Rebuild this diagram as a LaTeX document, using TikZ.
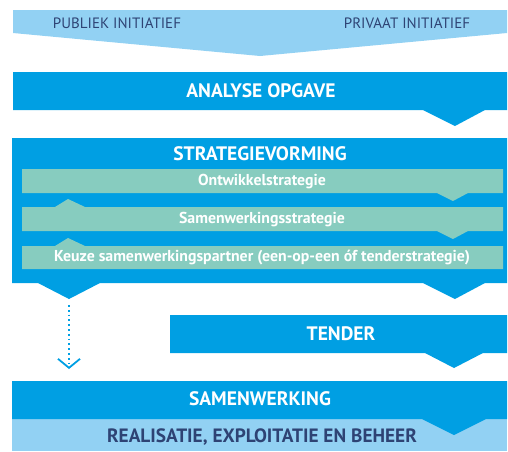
\documentclass[tikz,border=0pt]{standalone}
\usepackage{fontspec}
\setmainfont{PT Sans}
\usetikzlibrary{arrows.meta}

\definecolor{opgblue}{HTML}{009FE3}
\definecolor{lightblue}{HTML}{92D1F3}
\definecolor{stratgreen}{HTML}{87CCBF}
\definecolor{navytext}{HTML}{2E4374}

\begin{document}
\begin{tikzpicture}[x=1pt, y=-1pt,
  phase/.style={text=white, font=\bfseries\fontsize{19.5}{20}\selectfont},
  substep/.style={text=white, font=\bfseries\fontsize{15.8}{16}\selectfont},
  initiatief/.style={text=navytext, font=\fontsize{15}{15}\selectfont},
  beheer/.style={text=navytext, font=\bfseries\fontsize{19.3}{20}\selectfont}
  ]

  \useasboundingbox (0,0) rectangle (508,451);

  % Parameters
  \def\xl{12}    % left edge of the bands
  \def\xr{507}   % right edge of the bands
  \def\gl{22}    % left edge of the green bars
  \def\gr{503}   % right edge of the green bars

  % Initiatief band (light blue, pointing down)
  \fill[lightblue] (13,10) -- (\xr,10) -- (\xr,33) -- (260,56) -- (13,33) -- cycle;
  \node[initiatief] (publiek) at (117,23) {PUBLIEK INITIATIEF};
  \node[initiatief] (privaat) at (407,23) {PRIVAAT INITIATIEF};

  % Analyse opgave
  \fill[opgblue] (13,72) -- (\xr,72) -- (\xr,110) -- (485,110) -- (455,126)
    -- (423,110) -- (13,110) -- cycle;
  \node[phase] (analyse) at (261,91) {ANALYSE OPGAVE};

  % Strategievorming, with two chevrons at the bottom
  \fill[opgblue] (\xl,138) -- (\xr,138) -- (\xr,283) -- (485,283) -- (455,299)
    -- (423,283) -- (100,283) -- (69,299) -- (38,283) -- (\xl,283) -- cycle;
  \node[phase] (strategie) at (260,154) {STRATEGIEVORMING};

  % Green sub steps
  \fill[stratgreen] (\gl,169) -- (\gr,169) -- (\gr,193) -- (468,193) -- (453,201)
    -- (437,193) -- (\gl,193) -- cycle;
  \fill[stratgreen] (\gl,207) -- (55,207) -- (68,199) -- (85,207) -- (\gr,207)
    -- (\gr,231) -- (468,231) -- (453,239) -- (437,231) -- (\gl,231) -- cycle;
  \fill[stratgreen] (\gl,246) -- (55,246) -- (68,238) -- (85,246) -- (\gr,246)
    -- (\gr,269) -- (\gl,269) -- cycle;
  \node[substep] (ontwikkel) at (262,181.5) {Ontwikkelstrategie};
  \node[substep] (samenstrat) at (262,219.5) {Samenwerkingsstrategie};
  \node[substep] (keuze) at (262,257.5)
    {Keuze samenwerkingspartner (een-op-een óf tenderstrategie)};

  % Tender
  \fill[opgblue] (170,315) -- (\xr,315) -- (\xr,353) -- (483,353) -- (454,368)
    -- (425,353) -- (170,353) -- cycle;
  \node[phase] (tender) at (341,334) {TENDER};

  % Samenwerking and beheer
  \fill[lightblue] (\xl,419) rectangle (\xr,451);
  \fill[opgblue] (\xl,381) -- (\xr,381) -- (\xr,419) -- (486,419) -- (454,435)
    -- (422,419) -- (\xl,419) -- cycle;
  \node[phase] (samenwerking) at (260,399) {SAMENWERKING};
  \node[beheer] (beheer) at (262,437) {REALISATIE, EXPLOITATIE EN BEHEER};

  % Dotted shortcut from strategievorming to samenwerking
  \coordinate (shortstart) at (69,305);
  \coordinate (shortend) at (69,369);
  \draw[opgblue, line width=1.8pt, dash pattern=on 1.8pt off 3pt,
    -{Straight Barb[length=9pt, width=22pt, line width=1.8pt]}]
    (shortstart) -- (shortend);

\end{tikzpicture}
\end{document}
